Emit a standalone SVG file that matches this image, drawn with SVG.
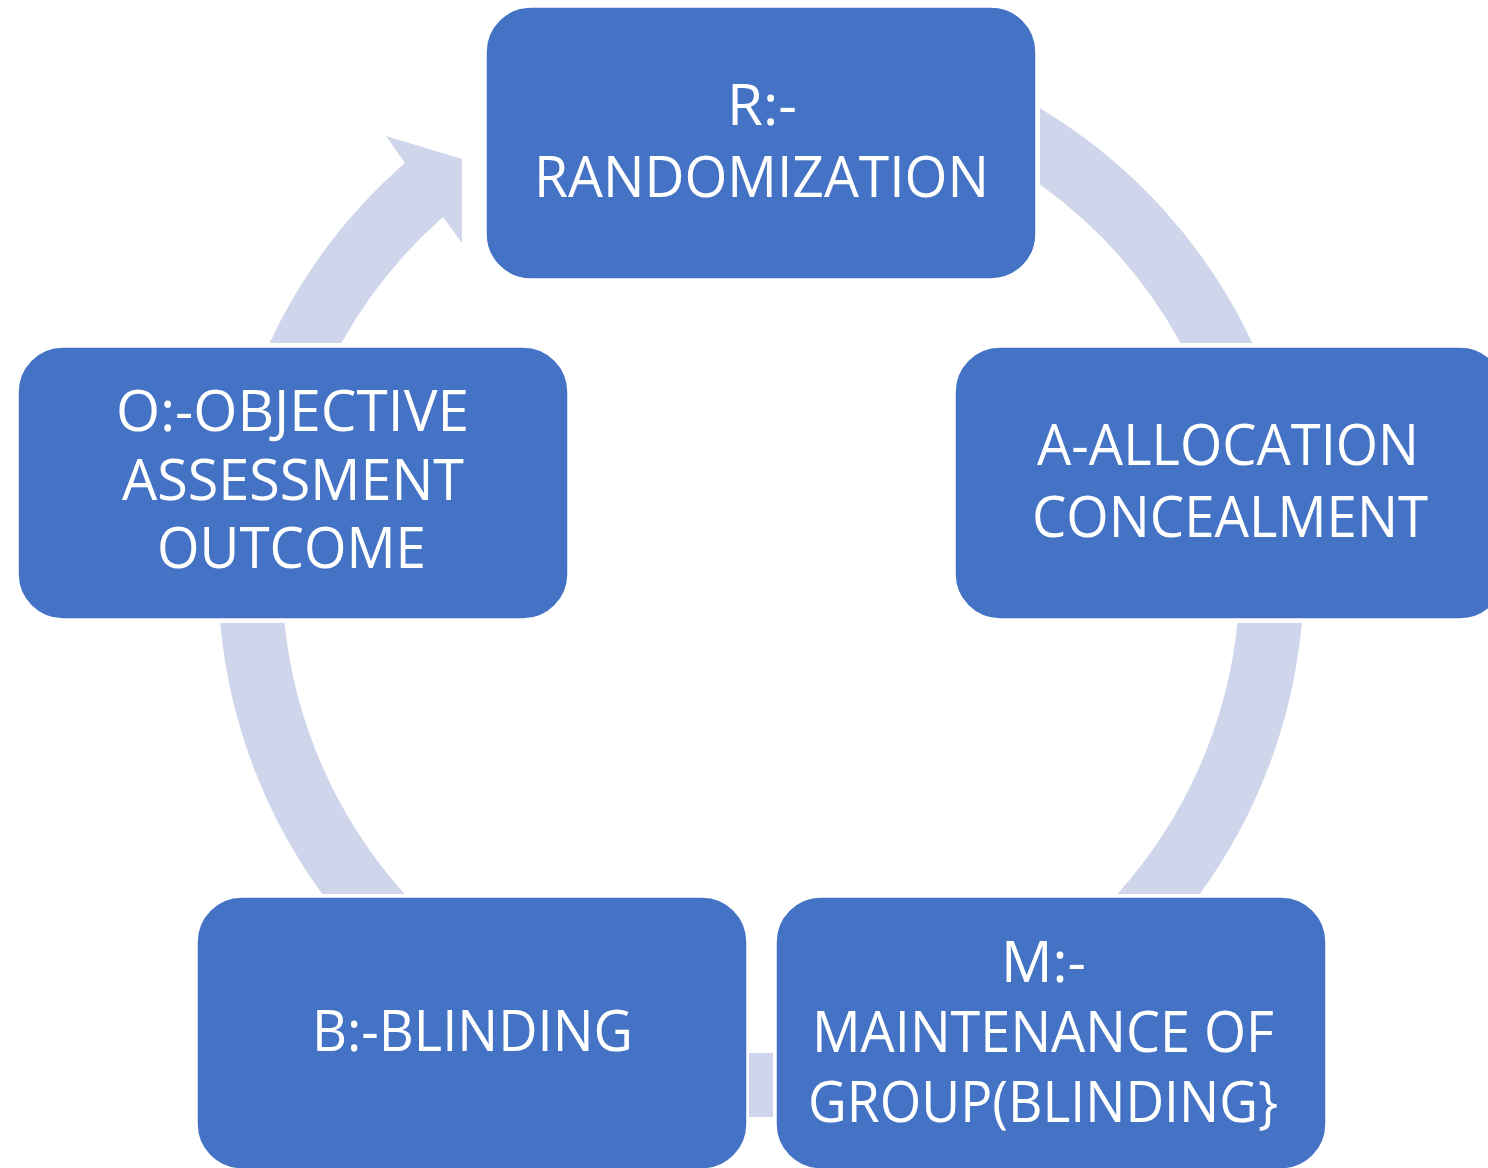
<svg xmlns="http://www.w3.org/2000/svg" width="1488" height="1168" viewBox="0 0 1488 1168">
  <style>
    .box { fill: #4472C4; stroke: #FFFFFF; stroke-width: 1.5; }
    .arc { fill: #CFD5EA; stroke: none; }
    .lbl { font-family: "Open Sans", "Liberation Sans", sans-serif; font-size: 57px; fill: #FFFFFF; text-anchor: middle; }
  </style>
  <rect x="0" y="0" width="1488" height="1168" fill="#FFFFFF"/>
  <g id="connectors">
    <path class="arc" d="M1040,108.2 A543,543 0 0 1 1252.4,343 L1180.6,343 A479,479 0 0 0 1040,184.6 Z"/>
    <path class="arc" d="M1301.8,623 A543,543 0 0 1 1199.7,894 L1117.4,894 A479,479 0 0 0 1237.5,623 Z"/>
    <path class="arc" d="M773,1116.9 A543,543 0 0 1 749,1116.9 L749,1052.9 A479,479 0 0 0 773,1052.9 Z"/>
    <path class="arc" d="M322.3,894 A543,543 0 0 1 220.2,623 L284.5,623 A479,479 0 0 0 404.6,894 Z"/>
    <path class="arc" d="M269.6,343 A543,543 0 0 1 405,163 L386,136 L462,159 L462,243 L443,217 A479,479 0 0 0 341.4,343 Z"/>
  </g>
  <g id="node-r">
    <rect class="box" x="486" y="7" width="550" height="272" rx="45" ry="45"/>
    <text class="lbl" x="762" y="125" textLength="70" lengthAdjust="spacingAndGlyphs">R:-</text>
    <text class="lbl" x="761.5" y="197" textLength="455" lengthAdjust="spacingAndGlyphs">RANDOMIZATION</text>
  </g>
  <g id="node-a">
    <rect class="box" x="955" y="347" width="550" height="272" rx="45" ry="45"/>
    <text class="lbl" x="1228" y="465" textLength="382" lengthAdjust="spacingAndGlyphs">A-ALLOCATION</text>
    <text class="lbl" x="1230" y="537" textLength="396" lengthAdjust="spacingAndGlyphs">CONCEALMENT</text>
  </g>
  <g id="node-m">
    <rect class="box" x="776" y="897" width="550" height="272" rx="45" ry="45"/>
    <text class="lbl" x="1043.5" y="982" textLength="85" lengthAdjust="spacingAndGlyphs">M:-</text>
    <text class="lbl" x="1043" y="1052" textLength="462" lengthAdjust="spacingAndGlyphs">MAINTENANCE OF</text>
    <text class="lbl" x="1043" y="1122" textLength="470" lengthAdjust="spacingAndGlyphs">GROUP(BLINDING}</text>
  </g>
  <g id="node-b">
    <rect class="box" x="197" y="897" width="550" height="272" rx="45" ry="45"/>
    <text class="lbl" x="472.5" y="1051" textLength="321" lengthAdjust="spacingAndGlyphs">B:-BLINDING</text>
  </g>
  <g id="node-o">
    <rect class="box" x="18" y="347" width="550" height="272" rx="45" ry="45"/>
    <text class="lbl" x="292.5" y="431" textLength="353" lengthAdjust="spacingAndGlyphs">O:-OBJECTIVE</text>
    <text class="lbl" x="293" y="500" textLength="342" lengthAdjust="spacingAndGlyphs">ASSESSMENT</text>
    <text class="lbl" x="291.5" y="568" textLength="269" lengthAdjust="spacingAndGlyphs">OUTCOME</text>
  </g>
</svg>
